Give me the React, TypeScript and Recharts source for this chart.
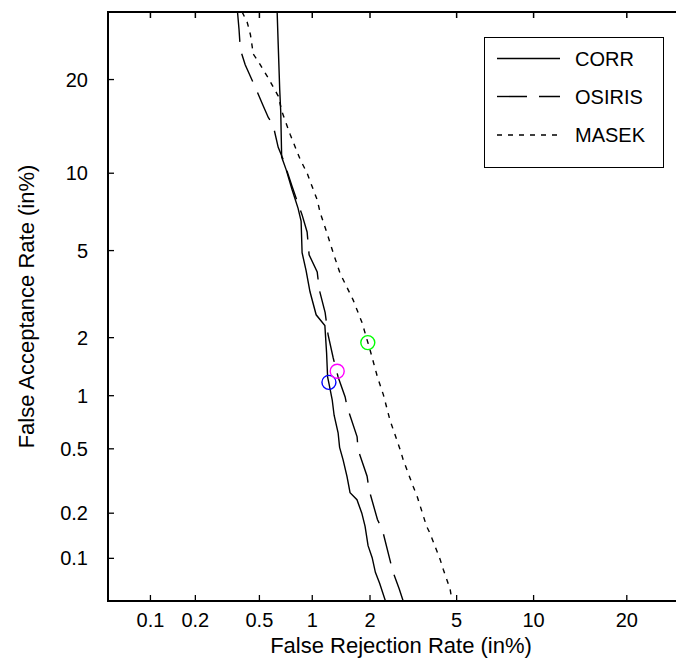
import React, { useEffect } from 'react';
import { ComposedChart, Line, XAxis, YAxis, ReferenceDot, ReferenceLine, ReferenceArea, Legend, Label } from 'recharts';

// DET curves: axes use the normal-deviate (probit) scale, values in percent
const AXIS_TICKS = [0.1, 0.2, 0.5, 1, 2, 5, 10, 20];
const AXIS_MIN = 0.05;
const AXIS_MAX = 30;

const corrFrr = [0.635, 0.644, 0.657, 0.666, 0.674, 0.715, 0.773, 0.835, 0.868, 0.879, 0.925, 0.972, 1.05, 1.17, 1.195, 1.21, 1.233, 1.28, 1.31, 1.375, 1.4, 1.46, 1.53, 1.586, 1.72, 1.82, 1.89, 1.956, 2.05, 2.126, 2.23, 2.38];
const corrFar = [30, 24.9, 18.7, 16.0, 11.4, 10.3, 8.7, 7.4, 6.6, 4.9, 4.1, 3.3, 2.58, 2.29, 1.68, 1.26, 1.15, 0.95, 0.78, 0.62, 0.51, 0.43, 0.34, 0.27, 0.244, 0.2, 0.164, 0.122, 0.101, 0.08, 0.067, 0.05];

const osirisFrr = [0.369, 0.377, 0.384, 0.411, 0.442, 0.479, 0.527, 0.564, 0.601, 0.644, 0.687, 0.773, 0.821, 0.879, 0.937, 0.961, 1.064, 1.092, 1.174, 1.217, 1.296, 1.375, 1.496, 1.532, 1.723, 1.743, 1.934, 1.978, 2.176, 2.3, 2.5, 2.59, 2.77, 2.89];
const osirisFar = [30, 27.2, 24.2, 22.0, 20.4, 18.7, 16.7, 15.4, 14.6, 12.3, 11.2, 8.95, 7.97, 6.98, 5.97, 4.8, 4.05, 3.37, 2.64, 2.07, 1.58, 1.26, 0.985, 0.868, 0.587, 0.493, 0.342, 0.282, 0.182, 0.156, 0.098, 0.08, 0.061, 0.05];

const masekFrr = [0.394, 0.423, 0.442, 0.46, 0.491, 0.564, 0.644, 0.678, 0.753, 0.857, 0.937, 1.064, 1.105, 1.2, 1.296, 1.406, 1.644, 1.824, 1.934, 2.0, 2.176, 2.327, 2.43, 2.5, 2.8, 2.89, 3.22, 3.36, 3.7, 3.82, 4.25, 4.38, 4.69, 4.78];
const masekFar = [30, 28.3, 26.4, 23.5, 22.5, 20.2, 17.9, 16.0, 13.6, 11.2, 10.0, 7.97, 7.1, 5.92, 4.89, 4.0, 3.03, 2.37, 1.95, 1.74, 1.26, 1.01, 0.836, 0.735, 0.493, 0.431, 0.294, 0.254, 0.164, 0.149, 0.098, 0.084, 0.061, 0.05];

// operating points marked with circles
const pointFrr = [1.23, 1.36, 1.95];
const pointFar = [1.18, 1.35, 1.89];
const pointColors = ['#0000ff', '#ff00ff', '#00ff00'];

const seriesNames = ['CORR', 'OSIRIS', 'MASEK'];
const seriesDash = ['', '30 12', '5 6'];

// inverse normal CDF (Acklam)
function probit(p: number): number {
  const a = [-39.69683028665376, 220.9460984245205, -275.9285104469687, 138.357751867269, -30.66479806614716, 2.506628277459239];
  const b = [-54.47609879822406, 161.5858368580409, -155.6989798598866, 66.80131188771972, -13.28068155288572];
  const c = [-0.007784894002430293, -0.3223964580411365, -2.400758277161838, -2.549732539343734, 4.374664141464968, 2.938163982698783];
  const d = [0.007784695709041462, 0.3224671290700398, 2.445134137142996, 3.754408661907416];
  const pLow = 0.02425;
  if (p < pLow) {
    const q = Math.sqrt(-2 * Math.log(p));
    return (((((c[0] * q + c[1]) * q + c[2]) * q + c[3]) * q + c[4]) * q + c[5]) / ((((d[0] * q + d[1]) * q + d[2]) * q + d[3]) * q + 1);
  }
  if (p <= 1 - pLow) {
    const q = p - 0.5;
    const r = q * q;
    return ((((((a[0] * r + a[1]) * r + a[2]) * r + a[3]) * r + a[4]) * r + a[5]) * q) / (((((b[0] * r + b[1]) * r + b[2]) * r + b[3]) * r + b[4]) * r + 1);
  }
  const q = Math.sqrt(-2 * Math.log(1 - p));
  return -(((((c[0] * q + c[1]) * q + c[2]) * q + c[3]) * q + c[4]) * q + c[5]) / ((((d[0] * q + d[1]) * q + d[2]) * q + d[3]) * q + 1);
}

const toZ = (pct: number) => probit(pct / 100);

const toPoints = (frr: number[], far: number[]) =>
  frr.map((v, i) => ({ x: toZ(v), y: toZ(far[i]) }));

const series = [
  toPoints(corrFrr, corrFar),
  toPoints(osirisFrr, osirisFar),
  toPoints(masekFrr, masekFar),
];

const domain: [number, number] = [toZ(AXIS_MIN), toZ(AXIS_MAX)];
const tickZ = AXIS_TICKS.map(toZ);
const fmtTick = (v: number) => {
  const i = tickZ.findIndex((t) => Math.abs(t - v) < 1e-6);
  return i >= 0 ? String(AXIS_TICKS[i]) : '';
};

// chart geometry
const CHART_W = 676;
const CHART_H = 654;
const MARGIN = { top: 4, right: -10, bottom: 0, left: 0 };
const X_AXIS_H = 61;
const PLOT_H = CHART_H - MARGIN.top - MARGIN.bottom - X_AXIS_H;
// inward tick length on the top frame, in axis units
const TOP_TICK = (6 * (domain[1] - domain[0])) / PLOT_H;

const FONT = '"Liberation Sans", Arial, Helvetica, sans-serif';

function LegendBox() {
  const rows = [21.5, 59.5, 98];
  return (
    <svg width={180} height={131} style={{ display: 'block' }}>
      <rect x={0.5} y={0.5} width={179} height={130} fill="#fff" stroke="#000" strokeWidth={1} />
      {seriesNames.map((name, i) => (
        <g key={name}>
          <line x1={13} x2={76} y1={rows[i]} y2={rows[i]} stroke="#000" strokeWidth={1.4} strokeDasharray={seriesDash[i] || undefined} />
          <text x={91} y={rows[i] + 7} fontSize={20} fontFamily={FONT} fill="#000">
            {name}
          </text>
        </g>
      ))}
    </svg>
  );
}

function XTitle(props: any) {
  const vb = props.viewBox || {};
  return (
    <text x={vb.x + vb.width / 2} y={vb.y + 52} textAnchor="middle" fontSize={22} fontFamily={FONT} fill="#000">
      False Rejection Rate (in%)
    </text>
  );
}

export default function App() {
  useEffect(() => {
    document.documentElement.style.overflow = 'hidden';
    document.body.style.overflow = 'hidden';
  }, []);

  return (
    <div style={{ fontFamily: FONT }}>
      <ComposedChart width={CHART_W} height={CHART_H} margin={MARGIN}>
        <XAxis
          xAxisId="b"
          type="number"
          dataKey="x"
          domain={domain}
          ticks={tickZ}
          interval={0}
          allowDataOverflow
          tickFormatter={fmtTick}
          tickSize={-6}
          tickMargin={18}
          height={X_AXIS_H}
          axisLine={{ stroke: '#000', strokeWidth: 1.3 }}
          tickLine={{ stroke: '#000', strokeWidth: 1.3 }}
          tick={{ fill: '#000', fontSize: 20 }}
        >
          <Label content={<XTitle />} />
        </XAxis>
        <YAxis
          type="number"
          domain={domain}
          ticks={tickZ}
          interval={0}
          allowDataOverflow
          tickFormatter={fmtTick}
          tickSize={-6}
          tickMargin={26}
          width={100}
          axisLine={{ stroke: '#000', strokeWidth: 1.3 }}
          tickLine={{ stroke: '#000', strokeWidth: 1.3 }}
          tick={{ fill: '#000', fontSize: 20 }}
          label={{
            value: 'False Acceptance Rate (in%)',
            angle: -90,
            position: 'insideLeft',
            offset: 18,
            fontSize: 22,
            fill: '#000',
            style: { textAnchor: 'middle' },
          }}
        />
        {/* box frame (MATLAB "box on") with inward ticks along the top */}
        <ReferenceArea
          xAxisId="b"
          x1={domain[0]}
          x2={domain[1]}
          y1={domain[0]}
          y2={domain[1]}
          fill="none"
          stroke="#000"
          strokeWidth={2}
          ifOverflow="visible"
        />
        {tickZ.map((t) => (
          <ReferenceLine
            key={`tt-${t}`}
            xAxisId="b"
            segment={[
              { x: t, y: domain[1] },
              { x: t, y: domain[1] - TOP_TICK },
            ]}
            stroke="#000"
            strokeWidth={1.5}
            ifOverflow="visible"
          />
        ))}
        {series.map((data, i) => (
          <Line
            key={seriesNames[i]}
            xAxisId="b"
            data={data}
            dataKey="y"
            name={seriesNames[i]}
            type="linear"
            stroke="#000"
            strokeWidth={1.4}
            strokeDasharray={seriesDash[i] || undefined}
            dot={false}
            activeDot={false}
            isAnimationActive={false}
          />
        ))}
        {pointFrr.map((v, i) => (
          <ReferenceDot
            key={pointColors[i]}
            xAxisId="b"
            x={toZ(v)}
            y={toZ(pointFar[i])}
            r={7}
            fill="none"
            stroke={pointColors[i]}
            strokeWidth={1.4}
          />
        ))}
        <Legend
          layout="horizontal"
          verticalAlign="middle"
          align="center"
          wrapperStyle={{ left: 476, top: 29, width: 180, height: 131 }}
          content={() => <LegendBox />}
        />
      </ComposedChart>
    </div>
  );
}
